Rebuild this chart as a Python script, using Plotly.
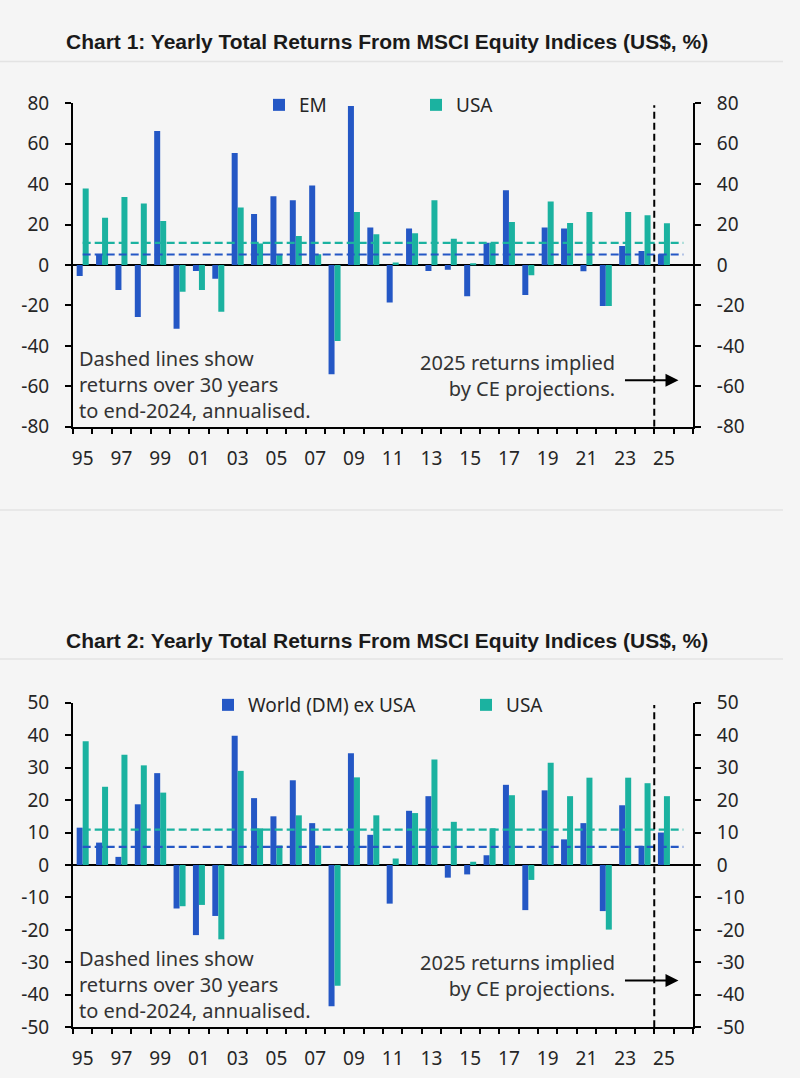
import plotly.graph_objects as go

# ---------------- data ----------------
years = list(range(1995, 2026))
tick_years = list(range(1995, 2026, 2))
tick_labels = ["95", "97", "99", "01", "03", "05", "07", "09", "11", "13", "15", "17", "19", "21", "23", "25"]

y1_ticks = [-80, -60, -40, -20, 0, 20, 40, 60, 80]
y1_labels = ["-80", "-60", "-40", "-20", "0", "20", "40", "60", "80"]
y2_ticks = [-50, -40, -30, -20, -10, 0, 10, 20, 30, 40, 50]
y2_labels = ["-50", "-40", "-30", "-20", "-10", "0", "10", "20", "30", "40", "50"]

em = [-5.5, 5.3, -12.4, -25.7, 66.3, -31.5, -3.0, -6.8, 55.4, 25.2, 34.0, 32.0, 39.3, -54.1, 78.7, 18.5,
      -18.5, 18.0, -3.0, -2.3, -15.5, 11.0, 37.0, -14.9, 18.5, 18.0, -3.1, -20.3, 9.4, 6.9, 5.3]
usa1 = [37.8, 23.4, 33.7, 30.4, 21.8, -13.2, -12.4, -23.1, 28.5, 10.6, 5.3, 14.4, 5.3, -37.6, 26.2, 15.2,
        1.2, 15.7, 32.0, 13.0, 0.5, 11.0, 21.3, -5.1, 31.4, 20.8, 26.2, -20.3, 26.2, 24.6, 20.6]

world = [11.5, 6.9, 2.5, 18.7, 28.3, -13.4, -21.6, -15.7, 39.8, 20.6, 15.0, 26.1, 12.9, -43.5, 34.4, 9.3,
         -11.9, 16.7, 21.2, -3.9, -2.9, 3.0, 24.7, -13.9, 23.0, 7.9, 12.9, -14.2, 18.4, 5.9, 10.0]
usa2 = [38.1, 24.1, 34.0, 30.7, 22.3, -12.7, -12.3, -22.9, 29.0, 11.3, 6.0, 15.3, 6.0, -37.2, 27.0, 15.3,
        2.0, 16.0, 32.5, 13.3, 1.0, 11.3, 21.5, -4.6, 31.5, 21.2, 26.9, -19.9, 26.9, 25.2, 21.2]

avg_years = [1995, 2026]
em_avg = [5.2, 5.2]
usa_avg = [10.9, 10.9]
world_avg = [5.6, 5.6]

# ---------------- style ----------------
BLUE = "#2457c5"
GREEN = "#1bb2a0"
BG = "#f5f5f5"
TXT = "#262626"
FONT = "Noto Sans"
W, H = 800, 1078


def px_x(p):
    return p / W


def px_y(p):
    return 1 - p / H


fig = go.Figure()

# chart 1
fig.add_trace(go.Bar(x=years, y=em, name="EM", marker=dict(color=BLUE, line=dict(width=0)),
                     xaxis="x", yaxis="y", legend="legend"))
fig.add_trace(go.Bar(x=years, y=usa1, name="USA", marker=dict(color=GREEN, line=dict(width=0)),
                     xaxis="x", yaxis="y", legend="legend2"))
fig.add_trace(go.Scatter(x=avg_years, y=usa_avg, mode="lines", line=dict(color=GREEN, width=2.2, dash="8px,4px"),
                         xaxis="x", yaxis="y2", showlegend=False, hoverinfo="skip"))
fig.add_trace(go.Scatter(x=avg_years, y=em_avg, mode="lines", line=dict(color=BLUE, width=2.2, dash="8px,4px"),
                         xaxis="x", yaxis="y2", showlegend=False, hoverinfo="skip"))

# chart 2
fig.add_trace(go.Bar(x=years, y=world, name="World (DM) ex USA", marker=dict(color=BLUE, line=dict(width=0)),
                     xaxis="x2", yaxis="y3", legend="legend3"))
fig.add_trace(go.Bar(x=years, y=usa2, name="USA", marker=dict(color=GREEN, line=dict(width=0)),
                     xaxis="x2", yaxis="y3", legend="legend4"))
fig.add_trace(go.Scatter(x=avg_years, y=usa_avg, mode="lines", line=dict(color=GREEN, width=2.2, dash="8px,4px"),
                         xaxis="x2", yaxis="y4", showlegend=False, hoverinfo="skip"))
fig.add_trace(go.Scatter(x=avg_years, y=world_avg, mode="lines", line=dict(color=BLUE, width=2.2, dash="8px,4px"),
                         xaxis="x2", yaxis="y4", showlegend=False, hoverinfo="skip"))

xdom = [px_x(73), px_x(693)]
dom1 = [px_y(426.7), px_y(103.3)]
dom2 = [px_y(1027.3), px_y(702.7)]

tickfont = dict(family=FONT, size=19, color=TXT)


def xaxis_cfg(anchor):
    return dict(domain=xdom, anchor=anchor, range=[1994.5, 2026.5], tickmode="array",
                tickvals=tick_years, ticktext=tick_labels, ticks="", showgrid=False, zeroline=False,
                showline=True, linecolor="black", linewidth=2, tickfont=tickfont,
                ticklabelstandoff=13, automargin=False,
                minor=dict(tickmode="array", tickvals=[1994.5 + k for k in range(33)], ticks="outside",
                           ticklen=5, tickwidth=1.5, tickcolor="black", showgrid=False))


def yaxis_cfg(dom, anchor, rng, tv, tt, side="left", overlaying=None):
    d = dict(domain=dom, anchor=anchor, range=rng, tickmode="array", tickvals=tv, ticktext=tt,
             side=side, showgrid=False,
             zeroline=True, zerolinecolor="black", zerolinewidth=2, showline=True, linecolor="black",
             linewidth=2, ticks="outside", ticklen=6, tickwidth=1.5, tickcolor="black",
             tickfont=tickfont, ticklabelstandoff=12, automargin=False)
    if overlaying:
        d["overlaying"] = overlaying
    return d


fig.update_layout(
    width=W, height=H, autosize=False,
    margin=dict(l=0, r=0, t=0, b=0, pad=0, autoexpand=False),
    paper_bgcolor=BG, plot_bgcolor=BG,
    barmode="group", bargap=0.38, bargroupgap=0,
    xaxis=xaxis_cfg("y"),
    xaxis2=xaxis_cfg("y3"),
    yaxis=yaxis_cfg(dom1, "x", [-80, 80], y1_ticks, y1_labels),
    yaxis2=yaxis_cfg(dom1, "x", [-80, 80], y1_ticks, y1_labels, side="right", overlaying="y"),
    yaxis3=yaxis_cfg(dom2, "x2", [-50, 50], y2_ticks, y2_labels),
    yaxis4=yaxis_cfg(dom2, "x2", [-50, 50], y2_ticks, y2_labels, side="right", overlaying="y3"),
    showlegend=True,
)

legfont = dict(family=FONT, size=19, color=TXT)
for name, xp, yp in [("legend", 259, 105), ("legend2", 416, 105), ("legend3", 208, 705), ("legend4", 466, 705)]:
    fig.update_layout({name: dict(x=px_x(xp), y=px_y(yp), xanchor="left", yanchor="middle",
                                  orientation="h", bgcolor="rgba(0,0,0,0)", font=legfont,
                                  itemclick=False, itemdoubleclick=False)})

shapes = []
# separators
for yy in [61.5, 510, 659]:
    shapes.append(dict(type="line", xref="paper", yref="paper", x0=0, x1=px_x(783), y0=px_y(yy), y1=px_y(yy),
                       line=dict(color="#e3e3e3", width=1.5)))
# vertical dashed forecast lines
shapes.append(dict(type="line", xref="x", yref="y", x0=2024.5, x1=2024.5, y0=-80, y1=79,
                   line=dict(color="black", width=2, dash="7px,4px")))
shapes.append(dict(type="line", xref="x2", yref="y3", x0=2024.5, x1=2024.5, y0=-50, y1=49.3,
                   line=dict(color="black", width=2, dash="7px,4px")))

annos = []
titles = [("Chart 1: Yearly Total Returns From MSCI Equity Indices (US$, %)", 41),
          ("Chart 2: Yearly Total Returns From MSCI Equity Indices (US$, %)", 640)]
for t, yy in titles:
    annos.append(dict(text="<b>" + t + "</b>", xref="paper", yref="paper", x=px_x(387), y=px_y(yy),
                      xanchor="center", yanchor="middle", showarrow=False,
                      font=dict(family="Liberation Sans", size=21, color="#1a1a1a")))

note_font = dict(family=FONT, size=20, color="#333333")
left_note = "Dashed lines show<br>returns over 30 years<br>to end-2024, annualised."
right_note = "2025 returns implied<br>by CE projections."
for top_left, top_right in [(343, 347), (943, 947)]:
    annos.append(dict(text=left_note, xref="paper", yref="paper", x=px_x(77), y=px_y(top_left),
                      xanchor="left", yanchor="top", align="left", showarrow=False, font=note_font))
    annos.append(dict(text=right_note, xref="paper", yref="paper", x=px_x(617), y=px_y(top_right),
                      xanchor="right", yanchor="top", align="right", showarrow=False, font=note_font))

# arrows
annos.append(dict(x=2025.75, y=-57, xref="x", yref="y", ax=-55, ay=0, text="", showarrow=True,
                  arrowhead=2, arrowsize=1.3, arrowwidth=2, arrowcolor="black"))
annos.append(dict(x=2025.75, y=-35.6, xref="x2", yref="y3", ax=-55, ay=0, text="", showarrow=True,
                  arrowhead=2, arrowsize=1.3, arrowwidth=2, arrowcolor="black"))

fig.update_layout(shapes=shapes, annotations=annos)

fig.write_html("out.html", config={"displayModeBar": False},
               post_script="document.body.style.margin='0';document.body.style.background='#f5f5f5';")
